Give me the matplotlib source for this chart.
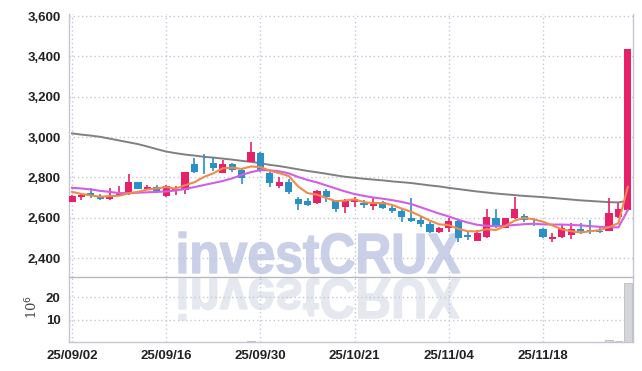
import matplotlib
matplotlib.use("Agg")
import matplotlib.pyplot as plt
from matplotlib.textpath import TextPath
from matplotlib.patches import PathPatch
from matplotlib.font_manager import FontProperties
from matplotlib.transforms import Affine2D
from matplotlib.ticker import FuncFormatter

# DATA
tick_pos = [0, 10, 20, 30, 40, 50]
tick_labels = ["25/09/02", "25/09/16", "25/09/30", "25/10/21", "25/11/04", "25/11/18"]

opens = [2680, 2704, 2722, 2709, 2694, 2709, 2724, 2775, 2742, 2750,
         2710, 2730, 2737, 2865, 2867, 2873, 2823, 2866, 2838, 2877,
         2922, 2823, 2758, 2778, 2691, 2684, 2671, 2732, 2684, 2654,
         2680, 2675, 2660, 2676, 2646, 2634, 2600, 2588, 2568, 2530,
         2548, 2583, 2514, 2486, 2505, 2600, 2550, 2597, 2608, 2571,
         2544, 2492, 2502, 2512, 2544, 2537, 2535, 2535, 2605, 2640]
highs = [2712, 2721, 2748, 2720, 2745, 2758, 2815, 2778, 2760, 2760,
         2762, 2755, 2828, 2894, 2914, 2902, 2886, 2872, 2845, 2974,
         2925, 2828, 2800, 2790, 2704, 2700, 2736, 2740, 2690, 2691,
         2704, 2690, 2700, 2685, 2656, 2645, 2700, 2605, 2580, 2552,
         2597, 2588, 2530, 2540, 2643, 2643, 2600, 2704, 2620, 2597,
         2548, 2525, 2562, 2572, 2575, 2588, 2560, 2700, 2671, 3435]
lows = [2678, 2688, 2700, 2688, 2688, 2707, 2712, 2740, 2735, 2722,
        2705, 2715, 2717, 2820, 2815, 2831, 2822, 2828, 2766, 2876,
        2828, 2750, 2746, 2717, 2638, 2658, 2668, 2679, 2630, 2625,
        2655, 2650, 2640, 2645, 2625, 2580, 2580, 2555, 2525, 2525,
        2530, 2482, 2490, 2483, 2500, 2547, 2548, 2593, 2580, 2557,
        2500, 2481, 2500, 2494, 2520, 2520, 2524, 2533, 2600, 2638]
closes = [2709, 2714, 2709, 2692, 2709, 2719, 2778, 2742, 2752, 2732,
          2755, 2740, 2826, 2825, 2864, 2845, 2866, 2838, 2795, 2927,
          2830, 2773, 2778, 2726, 2668, 2663, 2734, 2701, 2643, 2684,
          2692, 2664, 2676, 2647, 2634, 2605, 2586, 2568, 2530, 2547,
          2583, 2498, 2506, 2526, 2602, 2564, 2597, 2643, 2590, 2568,
          2502, 2505, 2547, 2544, 2536, 2531, 2531, 2624, 2643, 3435]
# volume in millions of shares
volume = [0.08, 0.06, 0.09, 0.07, 0.08, 0.1, 0.15, 0.1, 0.07, 0.08,
          0.1, 0.07, 0.18, 0.16, 0.15, 0.12, 0.12, 0.1, 0.13, 0.5,
          0.2, 0.12, 0.09, 0.1, 0.13, 0.08, 0.11, 0.09, 0.1, 0.09,
          0.07, 0.06, 0.07, 0.07, 0.06, 0.09, 0.15, 0.09, 0.1, 0.07,
          0.09, 0.13, 0.07, 0.08, 0.17, 0.13, 0.09, 0.15, 0.09, 0.07,
          0.09, 0.07, 0.09, 0.1, 0.07, 0.08, 0.07, 0.9, 0.3, 26.2]

ma5 = [2728, 2718, 2710, 2704, 2707, 2709, 2721, 2728, 2740, 2745,
       2752, 2744, 2761, 2776, 2802, 2820, 2845, 2848, 2842, 2854,
       2851, 2833, 2821, 2807, 2755, 2722, 2714, 2698, 2682, 2685,
       2691, 2677, 2672, 2673, 2663, 2645, 2630, 2608, 2585, 2567,
       2563, 2545, 2533, 2532, 2543, 2539, 2559, 2586, 2599, 2592,
       2580, 2562, 2542, 2533, 2527, 2533, 2538, 2553, 2573, 2753]
ma10 = [2748, 2745, 2740, 2733, 2728, 2722, 2722, 2724, 2726, 2728,
        2730, 2735, 2742, 2752, 2762, 2772, 2782, 2795, 2812, 2826,
        2836, 2835, 2830, 2820, 2802, 2787, 2775, 2760, 2745, 2730,
        2717, 2708, 2700, 2694, 2687, 2678, 2668, 2652, 2636, 2620,
        2606, 2590, 2576, 2565, 2560, 2558, 2560, 2564, 2568, 2570,
        2567, 2566, 2566, 2564, 2562, 2558, 2555, 2553, 2552, 2638]
ma_long = [3018, 3012, 3007, 3001, 2992, 2983, 2974, 2965, 2953, 2940,
           2928, 2920, 2913, 2908, 2902, 2898, 2893, 2888, 2882, 2877,
           2870, 2862, 2856, 2848, 2840, 2832, 2825, 2818, 2810, 2803,
           2798, 2793, 2789, 2785, 2780, 2776, 2772, 2766, 2760, 2755,
           2748, 2742, 2736, 2730, 2725, 2720, 2716, 2712, 2708, 2705,
           2702, 2698, 2694, 2690, 2686, 2683, 2680, 2677, 2676, 2684]

UP = "#e8206a"
DOWN = "#2b90c8"
GRID = "#c5c7d8"
SPINE = "#c4c6d2"

plt.rcParams["font.family"] = ["Liberation Sans", "DejaVu Sans"]

fig = plt.figure(figsize=(6.42, 3.71), dpi=100, facecolor="white")
W, H = 642, 371

# watermark with reflection, behind the axes
fp = FontProperties(family="Liberation Sans", weight="bold")
tp = TextPath((0, 0), "investCRUX", size=100, prop=fp)
bb = tp.get_extents()
cap = TextPath((0, 0), "X", size=100, prop=fp).get_extents().height
sx = 281 / bb.width
sy = 39 / cap
t_main = Affine2D().translate(-bb.x0, 0).scale(sx, sy).translate(179, H - 273)
t_refl = Affine2D().translate(-bb.x0, 0).scale(sx, -sy).translate(179, H - 279)
fig.add_artist(PathPatch(tp, transform=t_refl, facecolor="#e6e8f0", edgecolor="#e6e8f0",
                         lw=1.0, zorder=-2))
fig.add_artist(PathPatch(tp, transform=t_main, facecolor="#cad0e7", edgecolor="#cad0e7",
                         lw=1.0, zorder=-1))

left = 69 / W
width = 564 / W
ax = fig.add_axes([left, 1 - 277 / H, width, 263 / H])
ax2 = fig.add_axes([left, 1 - 342 / H, width, 65 / H], sharex=ax)
for a in (ax, ax2):
    a.set_facecolor("none")

x = list(range(len(closes)))

# candles
for i in x:
    col = UP if closes[i] >= opens[i] else DOWN
    ax.vlines(i, lows[i], highs[i], color=col, lw=1.2, zorder=3)
    lo = min(opens[i], closes[i])
    h = max(abs(closes[i] - opens[i]), 3)
    ax.bar(i, h, bottom=lo, width=0.76, color=col, zorder=4)

ax.plot(x, ma_long, color="#808080", lw=1.4, zorder=2)
ax.plot(x, ma10, color="#d35ee6", lw=1.5, zorder=5)
ax.plot(x, ma5, color="#f08a4a", lw=1.5, zorder=5)

ax.set_xlim(-0.32, 59.55)
ax.set_ylim(2306, 3610)
ax.set_yticks([2400, 2600, 2800, 3000, 3200, 3400, 3600])
ax.yaxis.set_major_formatter(FuncFormatter(lambda v, p: f"{int(v):,}"))

# volume
ax2.bar(x, volume, width=0.8, color="#d4d4db", edgecolor="#bcbcc4", lw=0.6, zorder=3)
ax2.set_ylim(0, 28.9)
ax2.set_yticks([10, 20])
ax2.set_xticks(tick_pos)
ax2.set_xticklabels(tick_labels)

for a in (ax, ax2):
    a.grid(True, color=GRID, lw=1, linestyle=(0, (1, 2)))
    a.set_axisbelow(True)
    a.tick_params(length=0, labelsize=9.5, labelcolor="#222222", pad=6)
    for lab in a.get_yticklabels() + a.get_xticklabels():
        lab.set_fontweight("bold")
    a.spines["top"].set_visible(False)
    for s in ("left", "right", "bottom"):
        a.spines[s].set_color(SPINE)
        a.spines[s].set_linewidth(1)
ax.spines["bottom"].set_color("#b8b8c0")
ax.tick_params(axis="x", labelbottom=False)

fig.text(32 / W, 1 - 307 / H, "10$^6$", rotation=90, ha="center", va="center",
         fontsize=9.5, color="#444444", family="DejaVu Serif")

fig.savefig("out.png", dpi=100)
